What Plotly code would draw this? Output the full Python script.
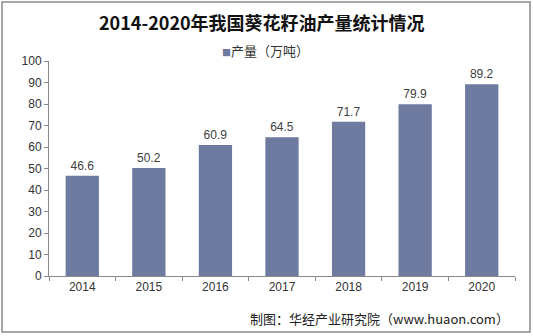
import plotly.graph_objects as go

years = ["2014", "2015", "2016", "2017", "2018", "2019", "2020"]
output = [46.6, 50.2, 60.9, 64.5, 71.7, 79.9, 89.2]
title = "2014-2020年我国葵花籽油产量统计情况"
series_name = "产量（万吨）"
source = "制图：华经产业研究院（www.huaon.com）"

W, H = 533, 336
L, R, T, B = 49, 515, 61, 276
bar_color = "#6F7AA1"

def px(x):
    return (x - L) / (R - L)

def py(y):
    return (B - y) / (B - T)

fig = go.Figure()
fig.add_trace(go.Bar(
    x=years, y=output, name=series_name,
    marker=dict(color=bar_color, line=dict(width=0)),
    text=[f"{v:.1f}" for v in output], textposition="outside",
    textfont=dict(family="Liberation Sans, Arial", size=12, color="#404040"),
    cliponaxis=False, showlegend=False,
))

fig.update_layout(
    width=W, height=H,
    margin=dict(l=L, r=W - R, t=T, b=H - B),
    paper_bgcolor="white", plot_bgcolor="white",
    bargap=0.5,
    font=dict(family="Liberation Sans, Arial", size=12, color="#333333"),
    xaxis=dict(
        type="category", showgrid=False, showline=True, linecolor="#888888", linewidth=1,
        ticks="outside", tickson="boundaries", ticklen=4, tickcolor="#888888",
        tickfont=dict(size=12, color="#333333"),
    ),
    yaxis=dict(
        range=[0, 100], dtick=10, showgrid=False, showline=True, linecolor="#888888",
        linewidth=1, ticks="outside", ticklen=4, tickcolor="#888888",
        tickfont=dict(size=12, color="#333333"), zeroline=False,
    ),
    shapes=[dict(
        type="rect", xref="paper", yref="paper",
        x0=px(2), x1=px(530), y0=py(332), y1=py(2),
        line=dict(color="#8A8A8A", width=1.5), fillcolor="rgba(0,0,0,0)", layer="below",
    )],
    annotations=[
        dict(text=f"<b>{title}</b>", xref="paper", yref="paper", x=px(262), y=py(22),
             xanchor="center", yanchor="middle", showarrow=False,
             font=dict(family="Noto Sans CJK SC", size=18, color="#111111")),
        dict(text=f"<span style='color:{bar_color};font-size:9px'>■</span>{series_name}",
             xref="paper", yref="paper", x=px(265), y=py(51),
             xanchor="center", yanchor="middle", showarrow=False,
             font=dict(family="Noto Sans CJK SC", size=13, color="#333333")),
        dict(text=source, xref="paper", yref="paper", x=px(511), y=py(318),
             xanchor="right", yanchor="middle", showarrow=False,
             font=dict(family="Noto Sans CJK SC", size=13, color="#222222")),
    ],
)

fig.write_html("out.html")
